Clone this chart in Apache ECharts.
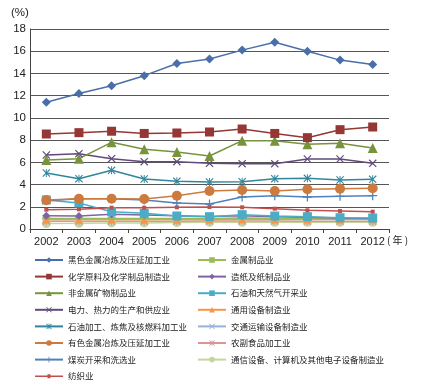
<!DOCTYPE html>
<html><head><meta charset="utf-8">
<script src="https://cdn.jsdelivr.net/npm/echarts@6/dist/echarts.min.js"></script>
<style>html,body{margin:0;padding:0;background:#fff}#c{width:442px;height:387px}</style>
</head><body><div id="c"></div>
<script>
var years = ['2002','2003','2004','2005','2006','2007','2008','2009','2010','2011','2012'];
var yTicks = [0,2,4,6,8,10,12,14,16,18];
var names = ['黑色金属冶炼及压延加工业','金属制品业','化学原料及化学制品制造业','造纸及纸制品业','非金属矿物制品业','石油和天然气开采业','电力、热力的生产和供应业','通用设备制造业','石油加工、炼焦及核燃料加工业','交通运输设备制造业','有色金属冶炼及压延加工业','农副食品加工业','煤炭开采和洗选业','通信设备、计算机及其他电子设备制造业','纺织业'];
var heiSe   = [11.4,12.2,12.9,13.8,14.9,15.3,16.1,16.8,16.0,15.2,14.8];
var jinShu  = [0.95,0.95,0.95,0.95,0.95,0.95,1.0,0.95,0.95,0.9,0.9];
var huaXue  = [8.55,8.67,8.8,8.6,8.64,8.73,9.0,8.6,8.22,8.94,9.18];
var zaoZhi  = [1.2,1.17,1.32,1.26,1.2,1.12,1.2,1.1,1.05,1.0,0.95];
var feiJin  = [6.2,6.33,7.8,7.17,6.93,6.57,7.95,7.95,7.62,7.71,7.29];
var shiYou  = [2.61,2.34,1.56,1.41,1.17,1.11,1.29,1.17,1.11,1.02,0.99];
var dianLi  = [6.66,6.78,6.33,6.06,6.06,5.91,5.88,5.88,6.3,6.3,5.91];
var tongYong= [0.85,0.85,0.85,0.85,0.85,0.85,0.87,0.87,0.87,0.87,0.87];
var jiaGong = [5.04,4.53,5.28,4.5,4.29,4.23,4.26,4.53,4.56,4.41,4.47];
var jiaoTong= [0.9,0.9,0.9,0.9,0.9,0.9,0.95,0.92,0.9,0.9,0.88];
var youSe   = [2.6,2.73,2.73,2.7,3.0,3.42,3.51,3.42,3.57,3.63,3.66];
var nongFu  = [0.7,0.7,0.7,0.7,0.7,0.72,0.72,0.72,0.7,0.7,0.7];
var meiTan  = [2.55,2.73,2.73,2.61,2.34,2.25,2.88,3.0,2.88,2.94,3.0];
var tongXin = [0.5,0.52,0.55,0.55,0.58,0.6,0.6,0.6,0.6,0.6,0.6];
var fangZhi = [1.74,1.77,1.92,1.92,1.95,1.98,1.95,1.83,1.68,1.62,1.56];

var X = 'path://M0,1L1,0L5,4L9,0L10,1L6,5L10,9L9,10L5,6L1,10L0,9L4,5Z';
var AST = 'path://M0,1L1,0L4.4,3.4L4.4,0L5.6,0L5.6,3.4L9,0L10,1L6,5L10,9L9,10L5.6,6.6L5.6,10L4.4,10L4.4,6.6L1,10L0,9L4,5Z';
var PLUS = 'path://M4.3,0L5.7,0L5.7,4.3L10,4.3L10,5.7L5.7,5.7L5.7,10L4.3,10L4.3,5.7L0,5.7L0,4.3L4.3,4.3Z';
var DASH = 'path://M0,0L10,0L10,4L0,4Z';
var FZ_ICON = 'path://M0,1.25L28,1.25L28,2.75L0,2.75Z M12.5,0L15.5,0L15.5,4L12.5,4Z';

function S(name, data, color, symbol, size){
  return {name:name, type:'line', data:data, symbol:symbol, symbolSize:size,
    showSymbol:true, lineStyle:{color:color,width:1.5}, itemStyle:{color:color},
    emphasis:{disabled:true}, z: 2};
}
var series = [
  S(names[13], tongXin, '#c3d69b','circle',9),
  S(names[11], nongFu, '#d99694',AST,8),
  S(names[9], jiaoTong, '#95b3d7',X,8),
  S(names[7], tongYong, '#f79646','triangle',8),
  S(names[1], jinShu, '#9bbb59',DASH,[8,3]),
  S(names[3], zaoZhi, '#8064a2','diamond',8),
  S(names[5], shiYou, '#4bacc6','rect',9),
  S(names[14], fangZhi, '#c0504d','rect',4),
  S(names[12], meiTan, '#4f81bd',PLUS,9),
  S(names[10], youSe, '#cc7a3e','circle',10),
  S(names[8], jiaGong, '#31859c',AST,8),
  S(names[6], dianLi, '#604a7b',X,8),
  S(names[4], feiJin, '#77933c','triangle',10),
  S(names[2], huaXue, '#953735','rect',9),
  S(names[0], heiSe, '#4a6fa8','diamond',9)
];
var leftNames = [names[0],names[2],names[4],names[6],names[8],names[10],names[12],{name:names[14], icon:FZ_ICON}];
var rightNames = [names[1],names[3],names[5],names[7],names[9],names[11],names[13]];
var legTxt = {fontSize:8.5, color:'#222', fontFamily:'Noto Sans CJK SC', lineHeight:10};
var chart = echarts.init(document.getElementById('c'), null, {renderer:'canvas'});
chart.setOption({
  animation:false,
  backgroundColor:'#fff',
  grid:{left:30, right:53, top:29, bottom:158, containLabel:false},
  xAxis:{type:'category', data:years, boundaryGap:true,
    axisLine:{lineStyle:{color:'#444',width:1}},
    axisTick:{show:true, length:4, lineStyle:{color:'#444'}},
    axisLabel:{fontSize:11, color:'#222', fontFamily:'Liberation Sans', margin:7}},
  yAxis:{type:'value', min:0, max:18, interval:2,
    axisLine:{show:true, lineStyle:{color:'#444'}},
    axisTick:{show:false},
    axisLabel:{fontSize:11.5, color:'#222', fontFamily:'Liberation Sans', margin:4,
      formatter:function(v){return yTicks.indexOf(v)>=0?String(v):'';}},
    splitLine:{lineStyle:{color:'#555',width:1}}},
  legend:[
    {data:leftNames, orient:'vertical', left:29, top:250, itemWidth:28, itemHeight:7, itemGap:6.6, textStyle:legTxt, selectedMode:false},
    {data:rightNames, orient:'vertical', left:192, top:250, itemWidth:28, itemHeight:7, itemGap:6.6, textStyle:legTxt, selectedMode:false}
  ],
  graphic:[
    {type:'text', left:11, top:7, style:{text:'(%)', fontSize:11.5, fill:'#222', fontFamily:'Liberation Sans'}},
    {type:'text', left:387, top:235, style:{text:'( 年 )', fontSize:10, fill:'#222', fontFamily:'Noto Sans CJK SC'}}
  ],
  series:series
});
</script></body></html>
